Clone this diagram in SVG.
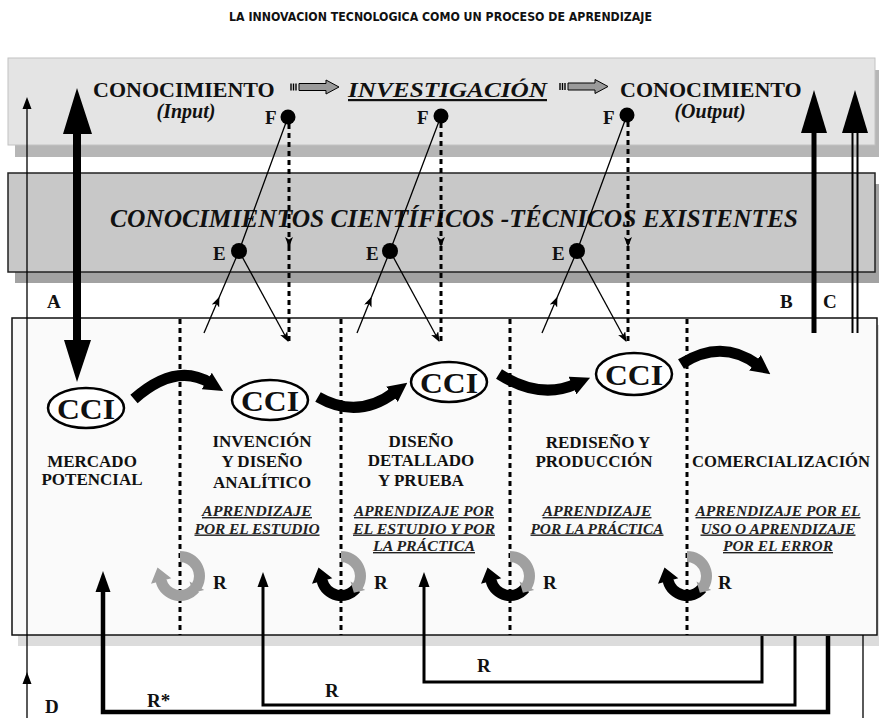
<svg xmlns="http://www.w3.org/2000/svg" xmlns:xlink="http://www.w3.org/1999/xlink" width="879" height="718" viewBox="0 0 879 718">
<style>
  .t { font-family: "Liberation Serif", "Times New Roman", serif; font-weight: bold; fill: #111; }
  .hd { font-size: 17px; text-anchor: middle; }
  .lb { font-size: 19px; }
  .ul { font-size: 14px; font-style: italic; text-decoration: underline; text-anchor: middle; fill: #222; }
  .cci ellipse { fill: #fff; stroke: #000; stroke-width: 2.5; }
  .cci text { font-size: 30px; text-anchor: middle; }
  .dot { stroke: #000; stroke-width: 3; stroke-dasharray: 5 4; fill: none; }
  .thin { stroke: #000; stroke-width: 1.3; fill: none; }
  .fb { stroke: #000; fill: none; }
  .big { stroke: #000; stroke-width: 11; fill: none; }
</style>
<defs>
  <marker id="ah" viewBox="0 0 10 8" refX="9" refY="4" markerWidth="10" markerHeight="8" markerUnits="userSpaceOnUse" orient="auto">
    <path d="M0,0 L10,4 L0,8 L2.5,4 Z" fill="#000"/>
  </marker>
  <marker id="hd" viewBox="0 0 10 10" refX="2" refY="5" markerWidth="1.75" markerHeight="1.75" orient="auto">
    <path d="M0,0 L10,5 L0,10 Z" fill="#000"/>
  </marker>
  <!-- block arrow with striped tail -->
  <g id="blk">
    <path d="M9,-3.5 L36,-3.5 L36,-7 L49,0 L36,7 L36,3.5 L9,3.5 Z" fill="#9a9a9a" stroke="#000" stroke-width="1"/>
    <path d="M1,-3.5 V3.5 M3.5,-3.5 V3.5 M6,-3.5 V3.5" stroke="#000" stroke-width="1.4"/>
  </g>
  <!-- rotating arrow: upper-right segment and lower-left segment -->
  <path id="segA" d="M0,-25 A25,25 0 0 1 21.65,12.5 L12.12,7 A14,14 0 0 0 0,-14 Z M9.53,5.5 L24.25,14 L12.9,16.7 Z"/>
  <path id="segB" d="M19.15,16.07 A25,25 0 0 1 -24.15,6.47 L-13.52,3.62 A14,14 0 0 0 10.72,9 Z M-8.69,2.33 L-28.98,7.76 L-22.46,-8.47 Z"/>
</defs>

<rect width="879" height="718" fill="#fff"/>

<g id="title">
  <text x="229" y="21" font-family="'Liberation Sans Narrow','DejaVu Sans Condensed','Liberation Sans',sans-serif" font-weight="bold" font-size="12.5" fill="#111" textLength="423" lengthAdjust="spacingAndGlyphs">LA INNOVACION TECNOLOGICA COMO UN PROCESO DE APRENDIZAJE</text>
</g>

<!-- top band: research turns knowledge input into output -->
<g id="band-investigacion">
  <rect x="15" y="70" width="864" height="87" fill="#b6b6b6"/>
  <rect x="8" y="58" width="867" height="87" fill="#e4e4e4" stroke="#c2c2c2" stroke-width="1"/>
  <text class="t" x="93" y="97" font-size="22">CONOCIMIENTO</text>
  <text class="t" x="186" y="118" font-size="20" font-style="italic" text-anchor="middle">(Input)</text>
  <use xlink:href="#blk" x="290" y="87"/>
  <text class="t" x="348" y="97" font-size="22" font-style="italic" text-decoration="underline" textLength="199" lengthAdjust="spacingAndGlyphs">INVESTIGACIÓN</text>
  <use xlink:href="#blk" x="559" y="86.5"/>
  <text class="t" x="620" y="97" font-size="22">CONOCIMIENTO</text>
  <text class="t" x="710" y="118" font-size="20" font-style="italic" text-anchor="middle">(Output)</text>
</g>

<!-- middle band: existing knowledge -->
<g id="band-existentes">
  <rect x="15" y="184" width="864" height="99" fill="#a2a2a2"/>
  <rect x="8" y="173" width="867" height="99" fill="#c8c8c8" stroke="#222" stroke-width="1.5"/>
  <text class="t" x="454" y="227" font-size="25" font-style="italic" text-anchor="middle" textLength="688" lengthAdjust="spacingAndGlyphs">CONOCIMIENTOS CIENTÍFICOS -TÉCNICOS EXISTENTES</text>
</g>

<!-- lower panel: the innovation stages -->
<g id="panel-etapas">
  <rect x="18" y="325" width="861" height="321" fill="#dcdcdc"/>
  <rect x="12" y="318" width="865" height="317" fill="#fafafa" stroke="#111" stroke-width="1.5"/>
  <path class="dot" d="M180,319 V635 M341,319 V635 M510,319 V635 M687,319 V635" stroke-dasharray="6 5"/>
</g>

<g id="connectors">
  <!-- D: thin vertical with two heads -->
  <path class="thin" d="M27,718 V100" stroke-width="1.5"/>
  <path d="M27,97 L22.5,109 L31.5,109 Z M27,672 L22.5,684 L31.5,684 Z" fill="#000"/>
  <path class="thin" d="M863,635 V718" stroke-width="1.5"/>

  <!-- A: double-headed thick arrow -->
  <path d="M77,88 L92,134 L81,134 L81,340 L91,340 L77,382 L64,340 L73,340 L73,134 L63,134 Z" fill="#000"/>
  <!-- B and C: thick arrows up out of the panel -->
  <rect x="811.5" y="128" width="5" height="205" fill="#000"/>
  <path d="M814,90 L827,133 L801,133 Z" fill="#000"/>
  <path d="M852.5,128 V333 M857.5,128 V333" stroke="#000" stroke-width="2"/>
  <path d="M855,90 L868,133 L842,133 Z" fill="#000"/>

  <!-- F/E links, column 1 -->
  <path class="thin" d="M204,333 L219,297.7" marker-end="url(#ah)"/>
  <path class="thin" d="M219,297.7 L239,251 L288,117"/>
  <path class="thin" d="M239,251 L288,341" marker-end="url(#ah)"/>
  <path class="dot" d="M289,124 V246" marker-end="url(#ah)"/>
  <path class="dot" d="M289,246 V342"/>
  <!-- column 2 -->
  <path class="thin" d="M357,333 L371.2,297.7" marker-end="url(#ah)"/>
  <path class="thin" d="M371.2,297.7 L390,251 L441,116"/>
  <path class="thin" d="M390,251 L439,341" marker-end="url(#ah)"/>
  <path class="dot" d="M441,123 V246" marker-end="url(#ah)"/>
  <path class="dot" d="M441,246 V342"/>
  <!-- column 3 -->
  <path class="thin" d="M542,333 L557,297.7" marker-end="url(#ah)"/>
  <path class="thin" d="M557,297.7 L577,251 L627,115"/>
  <path class="thin" d="M577,251 L626,341" marker-end="url(#ah)"/>
  <path class="dot" d="M628,122 V246" marker-end="url(#ah)"/>
  <path class="dot" d="M628,246 V342"/>

  <!-- stage-to-stage thick curved arrows -->
  <path class="big" d="M134,399 Q176,362 210,383" marker-end="url(#hd)"/>
  <path class="big" d="M318,397 Q358,420 395,392" marker-end="url(#hd)"/>
  <path class="big" d="M499,374 Q540,400 576,384" marker-end="url(#hd)"/>
  <path class="big" d="M681,364 Q722,338 758,365" marker-end="url(#hd)"/>

  <!-- feedback loops below the panel -->
  <path class="fb" d="M762,636 V682 H424 V585" stroke-width="3"/>
  <path d="M424,572 L418.5,587 L429.5,587 Z" fill="#000"/>
  <path class="fb" d="M795,636 V705 H263 V585" stroke-width="3"/>
  <path d="M263,572 L257.5,587 L268.5,587 Z" fill="#000"/>
  <path class="fb" d="M828,636 V712 H103 V588" stroke-width="4.5"/>
  <path d="M103,571 L95.5,592 L110.5,592 Z" fill="#000"/>
</g>

<!-- rotating R arrows on the stage dividers -->
<g id="rot1" transform="translate(180,576)" fill="#a0a0a0">
  <use xlink:href="#segB"/><use xlink:href="#segA"/>
</g>
<g id="rot2" transform="translate(341,576)">
  <use xlink:href="#segB" fill="#000"/><use xlink:href="#segA" fill="#a0a0a0"/>
</g>
<g id="rot3" transform="translate(510,576)">
  <use xlink:href="#segB" fill="#000"/><use xlink:href="#segA" fill="#a0a0a0"/>
</g>
<g id="rot4" transform="translate(687,576)">
  <use xlink:href="#segB" fill="#000"/><use xlink:href="#segA" fill="#a0a0a0"/>
</g>

<!-- F and E nodes -->
<g id="node-f1"><circle cx="288" cy="117" r="7.5" fill="#000"/><text class="t lb" x="265" y="124">F</text></g>
<g id="node-f2"><circle cx="441" cy="116" r="7.5" fill="#000"/><text class="t lb" x="417" y="124">F</text></g>
<g id="node-f3"><circle cx="627" cy="115" r="7.5" fill="#000"/><text class="t lb" x="603" y="124">F</text></g>
<g id="node-e1"><circle cx="239" cy="251" r="8" fill="#000"/><text class="t lb" x="213" y="260">E</text></g>
<g id="node-e2"><circle cx="390" cy="251" r="8" fill="#000"/><text class="t lb" x="366" y="260">E</text></g>
<g id="node-e3"><circle cx="577" cy="251" r="8" fill="#000"/><text class="t lb" x="552" y="260">E</text></g>

<!-- CCI nodes -->
<g id="cci1" class="cci"><ellipse cx="86" cy="408" rx="38" ry="20"/><text class="t" x="86" y="419" textLength="58" lengthAdjust="spacingAndGlyphs">CCI</text></g>
<g id="cci2" class="cci"><ellipse cx="270" cy="400" rx="38" ry="20"/><text class="t" x="270" y="411" textLength="58" lengthAdjust="spacingAndGlyphs">CCI</text></g>
<g id="cci3" class="cci"><ellipse cx="449" cy="382" rx="38" ry="20"/><text class="t" x="449" y="393" textLength="58" lengthAdjust="spacingAndGlyphs">CCI</text></g>
<g id="cci4" class="cci"><ellipse cx="634" cy="374" rx="38" ry="21"/><text class="t" x="634" y="385" textLength="58" lengthAdjust="spacingAndGlyphs">CCI</text></g>

<!-- stage labels -->
<g id="etapa-mercado">
  <text class="t hd" x="92" y="467">MERCADO</text>
  <text class="t hd" x="92" y="485">POTENCIAL</text>
</g>
<g id="etapa-invencion">
  <text class="t hd" x="262" y="447">INVENCIÓN</text>
  <text class="t hd" x="262" y="467">Y DISEÑO</text>
  <text class="t hd" x="262" y="488">ANALÍTICO</text>
  <text class="t ul" x="257" y="516" textLength="110" lengthAdjust="spacingAndGlyphs">APRENDIZAJE</text>
  <text class="t ul" x="257" y="533.5" textLength="125" lengthAdjust="spacingAndGlyphs">POR EL ESTUDIO</text>
</g>
<g id="etapa-diseno">
  <text class="t hd" x="421" y="447">DISEÑO</text>
  <text class="t hd" x="421" y="466">DETALLADO</text>
  <text class="t hd" x="421" y="486">Y PRUEBA</text>
  <text class="t ul" x="424" y="516" textLength="140" lengthAdjust="spacingAndGlyphs">APRENDIZAJE POR</text>
  <text class="t ul" x="424" y="533.5" textLength="142" lengthAdjust="spacingAndGlyphs">EL ESTUDIO Y POR</text>
  <text class="t ul" x="424" y="551" textLength="102" lengthAdjust="spacingAndGlyphs">LA PRÁCTICA</text>
</g>
<g id="etapa-rediseno">
  <text class="t hd" x="598" y="448">REDISEÑO Y</text>
  <text class="t hd" x="594" y="467">PRODUCCIÓN</text>
  <text class="t ul" x="597" y="516" textLength="109" lengthAdjust="spacingAndGlyphs">APRENDIZAJE</text>
  <text class="t ul" x="597" y="533.5" textLength="133" lengthAdjust="spacingAndGlyphs">POR LA PRÁCTICA</text>
</g>
<g id="etapa-comercializacion">
  <text class="t hd" x="781" y="467" textLength="178" lengthAdjust="spacingAndGlyphs">COMERCIALIZACIÓN</text>
  <text class="t ul" x="778" y="516" textLength="165" lengthAdjust="spacingAndGlyphs">APRENDIZAJE POR EL</text>
  <text class="t ul" x="778" y="533.5" textLength="155" lengthAdjust="spacingAndGlyphs">USO O APRENDIZAJE</text>
  <text class="t ul" x="778" y="551" textLength="110" lengthAdjust="spacingAndGlyphs">POR EL ERROR</text>
</g>

<!-- letter labels -->
<g id="labels">
  <text class="t lb" x="47" y="308">A</text>
  <text class="t lb" x="780" y="308">B</text>
  <text class="t lb" x="823" y="308">C</text>
  <text class="t lb" x="45" y="713">D</text>
  <text class="t lb" x="213" y="589">R</text>
  <text class="t lb" x="374" y="589">R</text>
  <text class="t lb" x="543" y="589">R</text>
  <text class="t lb" x="718" y="589">R</text>
  <text class="t lb" x="477" y="672">R</text>
  <text class="t lb" x="325" y="697">R</text>
  <text class="t lb" x="147" y="707">R*</text>
</g>
</svg>
